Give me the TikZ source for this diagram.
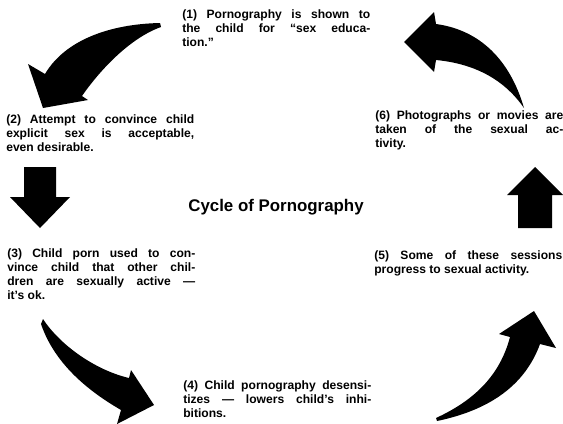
\documentclass[tikz,border=0pt]{standalone}
\usepackage{fontspec}
\setmainfont{Liberation Sans}
\usetikzlibrary{positioning}

\newcommand{\itemhang}{\hangindent=14pt\hangafter=1\relax}

\begin{document}
\begin{tikzpicture}[x=0.025cm, y=-0.025cm,
    note/.style={anchor=north west, inner sep=0pt, text width=4.7cm, align=justify,
      font=\fontsize{8.6}{10}\selectfont\bfseries},
    blot/.style={fill=black}]
  \useasboundingbox (0,0) rectangle (563,423);

  % the six steps
  \node[note] (s1) at (182,9) {\itemhang (1) Pornography is shown to\linebreak the child for “sex educa-\linebreak tion.”};
  \node[note] (s2) at (6,114) {\itemhang (2) Attempt to convince child\linebreak explicit sex is acceptable,\linebreak even desirable.};
  \node[note] (s3) at (7,248) {\itemhang (3) Child porn used to con-\linebreak vince child that other chil-\linebreak dren are sexually active —\linebreak it’s ok.};
  \node[note] (s4) at (183,380) {\itemhang (4) Child pornography desensi-\linebreak tizes — lowers child’s inhi-\linebreak bitions.};
  \node[note] (s5) at (374,250) {\itemhang\parfillskip=0pt\relax (5) Some of these sessions\linebreak progress to sexual activity.};
  \node[note] (s6) at (375,110) {\itemhang (6) Photographs or movies are\linebreak taken of the sexual ac-\linebreak tivity.};

  \node[font=\fontsize{12}{14}\selectfont\bfseries] (title) at (276,207) {Cycle of Pornography};

  % arrows round the cycle
  \fill[blot] (160,23) .. controls (110,24) and (65,40) .. (45,74) -- (28,64) -- (43,108) -- (88,100) -- (82,96) .. controls (100,70) and (130,38) .. (161,27) -- cycle;
  \fill[blot] (24,167) -- (56,167) -- (56,197) -- (70,197) -- (40,228) -- (10,197) -- (24,197) -- cycle;
  \fill[blot] (43,319) .. controls (60,345) and (95,370) .. (129,378) -- (131,370) -- (154,405) -- (117,424) -- (121,410) .. controls (90,392) and (55,365) .. (41,324) -- cycle;
  \fill[blot] (436,418) .. controls (475,400) and (500,375) .. (510,337) -- (499,334) -- (534,311) -- (556,348) -- (540,344) .. controls (525,385) and (490,410) .. (437,421) -- cycle;
  \fill[blot] (518,228) -- (518,195) -- (507,195) -- (535,167) -- (563,195) -- (552,195) -- (552,228) -- cycle;
  \fill[blot] (524,108) .. controls (510,60) and (480,30) .. (436,24) -- (434,12) -- (404,42) -- (434,72) -- (436,60) .. controls (478,64) and (506,82) .. (524,108) -- cycle;
\end{tikzpicture}
\end{document}
